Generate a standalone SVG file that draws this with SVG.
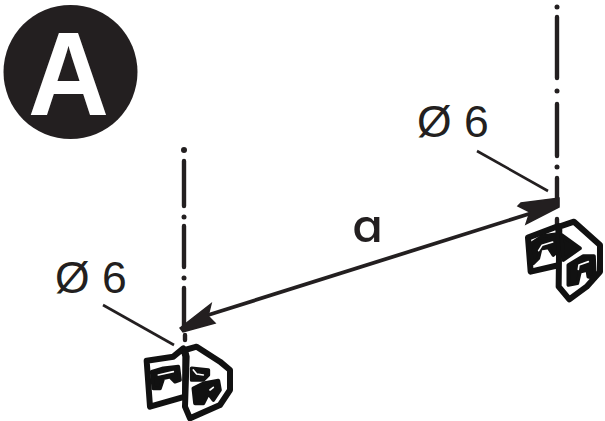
<svg xmlns="http://www.w3.org/2000/svg" width="605" height="421" viewBox="0 0 605 421">
<style>
.cl{stroke:#231f20;stroke-width:4.400;stroke-linecap:round;fill:none}
.dot{fill:#231f20}
.ld{stroke:#231f20;stroke-width:2.600;fill:none}
.dim{font-family:"Liberation Sans",Arial,sans-serif;font-size:44.500px;fill:#231f20}
.o{fill:#fff;stroke:#111;stroke-width:18;stroke-linejoin:round;stroke-linecap:round}
.b{fill:#111;stroke:#111;stroke-width:11;stroke-linejoin:round}
.w{fill:none;stroke:#fff;stroke-width:5;stroke-linecap:round;stroke-linejoin:round}
</style>
<rect width="605" height="421" fill="#fff"/>
<g id="badge">
<circle cx="70.500" cy="72" r="67" fill="#231f20"/>
<text x="28" y="115" textLength="81" lengthAdjust="spacingAndGlyphs" font-family="Liberation Sans,Arial,sans-serif" font-weight="bold" font-size="119" fill="#fff">A</text>
</g>
<g id="centerline-right">
<path class="cl" d="M557 17V78M557 104V156M557 178V206M557 219V225"/>
<circle class="dot" cx="557" cy="7" r="2.500"/><circle class="dot" cx="557" cy="91" r="2.500"/><circle class="dot" cx="557" cy="167" r="2.500"/>
</g>
<g id="centerline-left">
<path class="cl" d="M184 161V206M184 226V267M184 288V326M185 335V340"/>
<circle class="dot" cx="184" cy="150" r="3"/><circle class="dot" cx="184" cy="217" r="2.500"/><circle class="dot" cx="184" cy="278" r="2.500"/>
</g>
<g id="connectors">
<path class="ld" d="M477 151L548 191"/>
<path class="ld" d="M103 305L174 345"/>
<path d="M205 316L535 212" stroke="#231f20" stroke-width="3.800" fill="none"/>
<path d="M559 198L559 207L526 224L530 212L518 206L521 203Z" fill="#231f20" stroke="#231f20" stroke-width="1.500"/>
<path d="M180 328L211 304L208 316L215 323L183 332Z" fill="#231f20" stroke="#231f20" stroke-width="1.500"/>
</g>
<g id="label-a">
<text x="352" y="242" textLength="31" lengthAdjust="spacingAndGlyphs" font-family="Inter,'Liberation Sans',sans-serif" font-size="46" font-weight="500" style="font-feature-settings:'cv11'" fill="#231f20">a</text>
</g>
<g id="label-d-right"><text class="dim" x="417" y="137">Ø 6</text></g>
<g id="label-d-left"><text class="dim" x="55" y="293">Ø 6</text></g>
<g id="icon-right" transform="translate(500 170) scale(.3333)">
<path class="o" d="M84 203L175 168L178 285L92 305Z"/>
<path class="o" d="M178 170L222 155L300 225L300 305L260 350L208 388L176 350Z"/>
<path class="b" d="M92 222L128 198L172 192L176 240L160 255L145 232L122 236L115 265L100 280L90 245Z"/>
<path class="w" d="M116 242L126 226L158 216"/>
<path class="b" d="M185 195L240 235L190 270Z"/>
<path class="b" d="M205 285L250 258L282 258L285 325L265 320L262 300L240 305L232 340L205 345Z"/>
<path class="w" d="M235 298L237 285L265 275"/>
</g>
<g id="icon-left" transform="translate(130 300) scale(.3333)">
<path class="o" d="M50 182L130 170L160 145L166 170L165 290L60 320Z"/>
<path class="o" d="M165 150L200 140L270 185L300 210L300 270L270 315L180 355L165 320L170 170Z"/>
<path class="b" d="M65 215L100 205L145 200L150 240L135 245L120 230L100 235L90 265L70 265Z"/>
<path class="w" d="M85 225L130 215"/>
<path class="b" d="M185 205L235 210L235 225L220 240L185 240Z"/>
<path class="w" d="M190 210L200 222L220 225"/>
<path class="b" d="M190 265L220 250L265 242L270 270L250 300L235 280L220 310L195 310Z"/>
<path class="w" d="M240 270L250 262"/>
</g>
</svg>
